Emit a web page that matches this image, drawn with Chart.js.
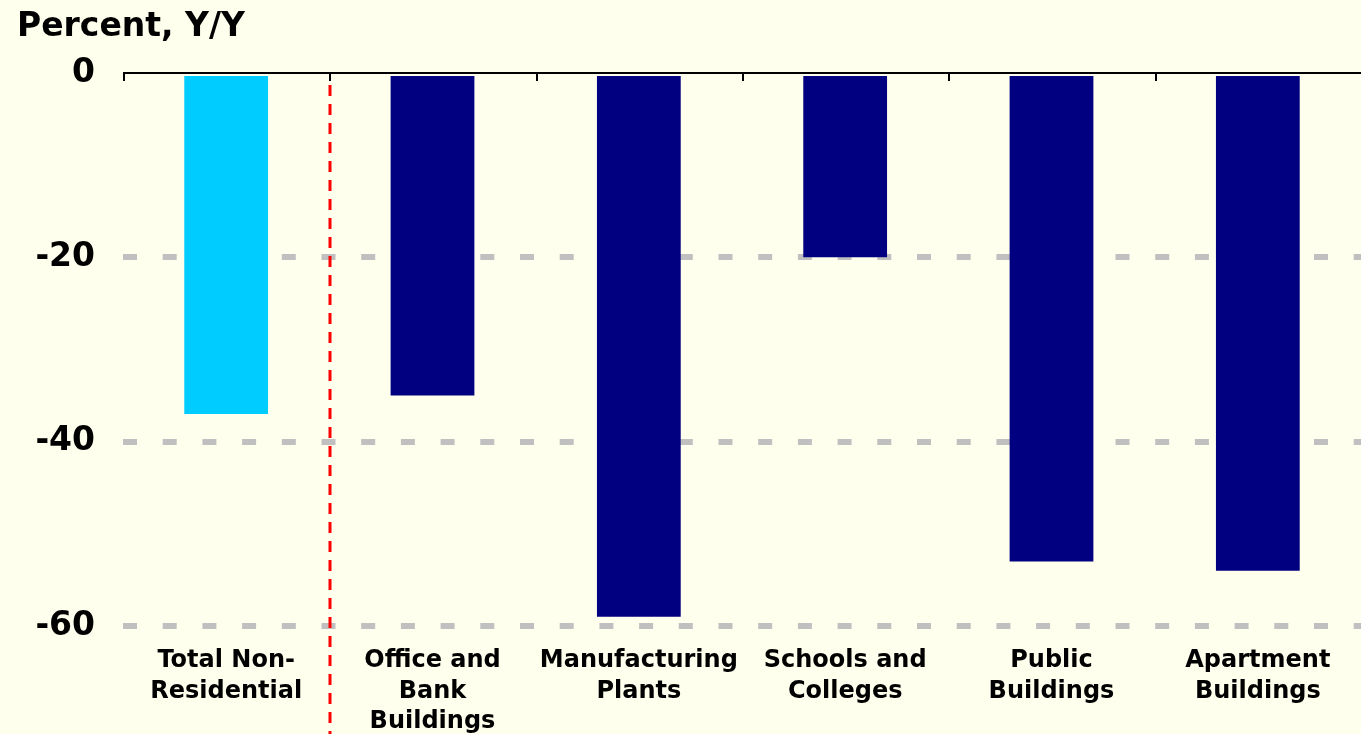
<!DOCTYPE html>
<html>
<head>
<meta charset="utf-8">
<script src="https://cdn.jsdelivr.net/npm/chart.js@4.4.1/dist/chart.umd.min.js"></script>
<style>
	html, body { margin: 0; padding: 0; background: #FFFFEE; }
	#wrap { width: 1361px; height: 734px; position: relative; }
</style>
</head>
<body>
<div id="wrap"><canvas id="chart"></canvas></div>
<script>
	const categories = [
		["Total Non-", "Residential"],
		["Office and", "Bank", "Buildings"],
		["Manufacturing", "Plants"],
		["Schools and", "Colleges"],
		["Public", "Buildings"],
		["Apartment", "Buildings"]
	];
	const changeYoY = [-37, -35, -59, -20, -53, -54];
	const yTicks = [0, -20, -40, -60];
	const axisTitle = "Percent, Y/Y";

	const FONT = "'DejaVu Sans', Verdana, sans-serif";

	// background, zero axis with tick marks, divider and axis title
	const decorations = {
		id: "decorations",
		beforeDraw(chart) {
			const { ctx } = chart;
			ctx.save();
			ctx.fillStyle = "#FFFFEE";
			ctx.fillRect(0, 0, chart.width, chart.height);
			ctx.restore();
		},
		afterDatasetsDraw(chart) {
			const { ctx, chartArea } = chart;
			const x = chart.scales.x;
			const y0 = chart.scales.y.getPixelForValue(0);
			const half = (x.getPixelForValue(1) - x.getPixelForValue(0)) / 2;

			ctx.save();
			// divider between total and components
			const divX = Math.round(x.getPixelForValue(0) + half) + 1;
			ctx.strokeStyle = "#FF0000";
			ctx.lineWidth = 3;
			ctx.setLineDash([11, 8]);
			ctx.beginPath();
			ctx.moveTo(divX, y0 + 12);
			ctx.lineTo(divX, chart.height);
			ctx.stroke();

			// zero line
			ctx.setLineDash([]);
			ctx.strokeStyle = "#000000";
			ctx.lineWidth = 2;
			ctx.beginPath();
			ctx.moveTo(chartArea.left, y0);
			ctx.lineTo(chart.width, y0);
			ctx.stroke();

			// category tick marks hanging below zero
			for (let i = 0; i <= categories.length; i++) {
				const tx = Math.round(x.getPixelForValue(0) - half + i * 2 * half) + 1;
				ctx.beginPath();
				ctx.moveTo(tx, y0);
				ctx.lineTo(tx, y0 + 8);
				ctx.stroke();
			}

			ctx.fillStyle = "#000000";
			ctx.font = "bold 33px " + FONT;
			ctx.textBaseline = "alphabetic";
			ctx.textAlign = "left";
			ctx.fillText(axisTitle, 17, 36);
			ctx.restore();
		}
	};

	new Chart(document.getElementById("chart"), {
		type: "bar",
		data: {
			labels: categories,
			datasets: [{
				data: changeYoY,
				backgroundColor: (c) => c.dataIndex === 0 ? "#00CCFF" : "#000080",
				borderWidth: 0,
				inflateAmount: 0,
				categoryPercentage: 1,
				barPercentage: 0.406
			}]
		},
		options: {
			responsive: true,
			maintainAspectRatio: false,
			animation: false,
			devicePixelRatio: 1,
			layout: { padding: { top: 73, right: 0, left: 0, bottom: 0 } },
			plugins: {
				legend: { display: false },
				tooltip: { enabled: false },
				title: { display: false }
			},
			scales: {
				x: {
					position: "bottom",
					afterFit(scale) { scale.height = 108; },
					grid: { display: false, drawTicks: false },
					border: { display: false },
					ticks: {
						color: "#000000",
						font: { family: FONT, size: 24, weight: "bold", lineHeight: 1.27 },
						padding: 20,
						maxRotation: 0,
						minRotation: 0,
						autoSkip: false
					}
				},
				y: {
					min: -60,
					max: 0,
					afterFit(scale) { scale.width = 123; },
					afterBuildTicks(scale) { scale.ticks = yTicks.map((v) => ({ value: v })); },
					grid: {
						color: (c) => c.tick && c.tick.value === 0 ? "rgba(0,0,0,0)" : "#C0C0C0",
						lineWidth: 6,
						drawTicks: false
					},
					border: { display: false, dash: [14, 25.7] },
					ticks: {
						color: "#000000",
						font: { family: FONT, size: 33, weight: "bold" },
						padding: 28
					}
				}
			}
		},
		plugins: [decorations]
	});
</script>
</body>
</html>
